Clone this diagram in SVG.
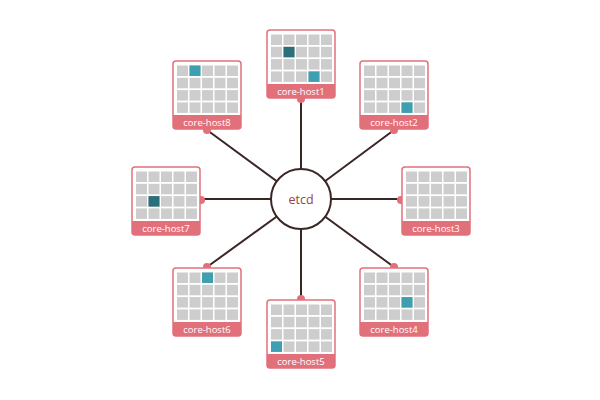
<svg xmlns="http://www.w3.org/2000/svg" xmlns:xlink="http://www.w3.org/1999/xlink" width="600" height="400" viewBox="0 0 600 400">
<style>
.box{fill:#ffffff;stroke:#e2707a;stroke-width:1.5}
.band{fill:#e2707a}
.lbl{font-family:"Open Sans","Liberation Sans",sans-serif;font-size:9.5px;fill:#ffffff;text-anchor:middle}
.c{fill:#cdcdcd}
.h{fill:#3d9fb0}
.d{fill:#2a6f7a}
.dot{fill:#e2707a}
.ln{stroke:#3b2626;stroke-width:2;fill:none}
</style>
<defs>
<g id="grid">
<rect class="box" x="0" y="0" width="68" height="68" rx="3"/>
<path class="band" d="M0,54 H68 V65 Q68,68 65,68 H3 Q0,68 0,65 Z"/>
<g class="c">
<rect x="4" y="4.5" width="11" height="10.5"/><rect x="16.5" y="4.5" width="11" height="10.5"/><rect x="29" y="4.5" width="11" height="10.5"/><rect x="41.5" y="4.5" width="11" height="10.5"/><rect x="54" y="4.5" width="11" height="10.5"/>
<rect x="4" y="16.8" width="11" height="10.5"/><rect x="16.5" y="16.8" width="11" height="10.5"/><rect x="29" y="16.8" width="11" height="10.5"/><rect x="41.5" y="16.8" width="11" height="10.5"/><rect x="54" y="16.8" width="11" height="10.5"/>
<rect x="4" y="29.1" width="11" height="10.5"/><rect x="16.5" y="29.1" width="11" height="10.5"/><rect x="29" y="29.1" width="11" height="10.5"/><rect x="41.5" y="29.1" width="11" height="10.5"/><rect x="54" y="29.1" width="11" height="10.5"/>
<rect x="4" y="41.4" width="11" height="10.5"/><rect x="16.5" y="41.4" width="11" height="10.5"/><rect x="29" y="41.4" width="11" height="10.5"/><rect x="41.5" y="41.4" width="11" height="10.5"/><rect x="54" y="41.4" width="11" height="10.5"/>
</g>
</g>
</defs>
<g id="connectors">
<line class="ln" x1="301" y1="199" x2="301" y2="99"/>
<line class="ln" x1="301" y1="199" x2="394" y2="130"/>
<line class="ln" x1="301" y1="199" x2="401" y2="199"/>
<line class="ln" x1="301" y1="199" x2="394" y2="267"/>
<line class="ln" x1="301" y1="199" x2="301" y2="299"/>
<line class="ln" x1="301" y1="199" x2="207" y2="267"/>
<line class="ln" x1="301" y1="199" x2="201" y2="199"/>
<line class="ln" x1="301" y1="199" x2="207" y2="130"/>
</g>
<g id="etcd">
<circle cx="301" cy="199" r="30" fill="#ffffff" stroke="#3b2626" stroke-width="2"/>
<text x="301" y="203.5" font-family="'Open Sans','Liberation Sans',sans-serif" font-size="12.5" fill="#9a3c46" text-anchor="middle">etcd</text>
</g>
<g id="core-host1" transform="translate(267,30)">
<circle class="dot" cx="34" cy="69" r="4"/>
<use xlink:href="#grid"/>
<rect class="d" x="16.5" y="16.8" width="11" height="10.5"/>
<rect class="h" x="41.5" y="41.4" width="11" height="10.5"/>
<text class="lbl" x="34" y="64.5">core-host1</text>
</g>
<g id="core-host2" transform="translate(360,61)">
<circle class="dot" cx="34" cy="69" r="4"/>
<use xlink:href="#grid"/>
<rect class="h" x="41.5" y="41.4" width="11" height="10.5"/>
<text class="lbl" x="34" y="64.5">core-host2</text>
</g>
<g id="core-host3" transform="translate(402,167)">
<circle class="dot" cx="-1" cy="33" r="4"/>
<use xlink:href="#grid"/>
<text class="lbl" x="34" y="64.5">core-host3</text>
</g>
<g id="core-host4" transform="translate(360,268)">
<circle class="dot" cx="34" cy="-1" r="4"/>
<use xlink:href="#grid"/>
<rect class="h" x="41.5" y="29.1" width="11" height="10.5"/>
<text class="lbl" x="34" y="64.5">core-host4</text>
</g>
<g id="core-host5" transform="translate(267,300)">
<circle class="dot" cx="34" cy="-1" r="4"/>
<use xlink:href="#grid"/>
<rect class="h" x="4" y="41.4" width="11" height="10.5"/>
<text class="lbl" x="34" y="64.5">core-host5</text>
</g>
<g id="core-host6" transform="translate(173,268)">
<circle class="dot" cx="34" cy="-1" r="4"/>
<use xlink:href="#grid"/>
<rect class="h" x="29" y="4.5" width="11" height="10.5"/>
<text class="lbl" x="34" y="64.5">core-host6</text>
</g>
<g id="core-host7" transform="translate(132,167)">
<circle class="dot" cx="69" cy="33" r="4"/>
<use xlink:href="#grid"/>
<rect class="d" x="16.5" y="29.1" width="11" height="10.5"/>
<text class="lbl" x="34" y="64.5">core-host7</text>
</g>
<g id="core-host8" transform="translate(173,61)">
<circle class="dot" cx="34" cy="69" r="4"/>
<use xlink:href="#grid"/>
<rect class="h" x="16.5" y="4.5" width="11" height="10.5"/>
<text class="lbl" x="34" y="64.5">core-host8</text>
</g>
</svg>
